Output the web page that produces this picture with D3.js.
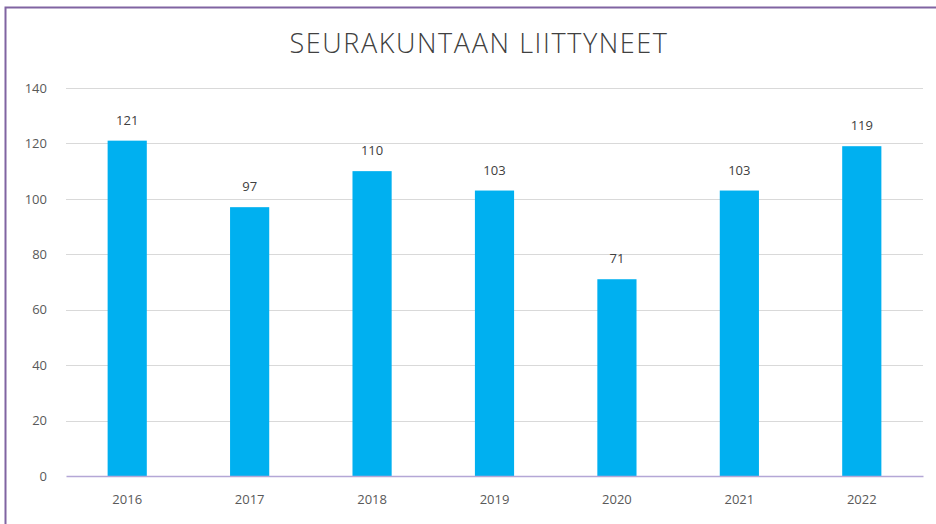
<!DOCTYPE html>
<html>
<head>
<meta charset="utf-8">
<script src="https://cdn.jsdelivr.net/npm/d3@7"></script>
<style>
  body { margin: 0; background: #fff; }
  svg { display: block; }
  .grid line { stroke: #d9d9d9; }
  .tick text { fill: #595959; font-family: "Open Sans", sans-serif; font-size: 13px; }
</style>
</head>
<body>
<script>
// データ
var years = ["2016", "2017", "2018", "2019", "2020", "2021", "2022"];
var joined = [121, 97, 110, 103, 71, 103, 119];
var yTicks = [0, 20, 40, 60, 80, 100, 120, 140];
var title = "SEURAKUNTAAN LIITTYNEET";

var W = 936, H = 524;
var margin = {top: 88, right: 13, bottom: 48, left: 66},
    width = W - margin.left - margin.right,
    height = H - margin.top - margin.bottom;

var svg = d3.select("body").append("svg")
    .attr("width", W)
    .attr("height", H);

// 枠線
svg.append("path")
    .attr("d", "M5.5," + H + " V7.5 H" + W)
    .attr("fill", "none")
    .attr("stroke", "#8064a2")
    .attr("stroke-width", 2);

// タイトル
svg.append("text")
    .attr("x", 479)
    .attr("y", 53)
    .attr("text-anchor", "middle")
    .style("font-family", "'Open Sans', sans-serif")
    .style("font-weight", 300)
    .style("font-size", "27px")
    .style("letter-spacing", "1.6px")
    .style("fill", "#404040")
    .text(title);

var g = svg.append("g")
    .attr("transform", "translate(" + margin.left + "," + margin.top + ")");

var x = d3.scaleBand().domain(years).range([0, width]).paddingInner(0.68).paddingOuter(0.34);
var y = d3.scaleLinear().domain([0, 140]).range([height, 0]);

// グリッド
g.append("g")
    .attr("class", "grid")
    .selectAll("line")
    .data(yTicks.slice(1))
    .enter().append("line")
    .attr("x1", 0).attr("x2", width)
    .attr("y1", function(d) { return Math.round(y(d)) + 0.5; })
    .attr("y2", function(d) { return Math.round(y(d)) + 0.5; });

// Y軸
var yAxis = g.append("g")
    .call(d3.axisLeft(y).tickValues(yTicks).tickSize(0).tickPadding(19));
yAxis.select(".domain").remove();

// 棒
g.selectAll(".bar")
    .data(joined)
    .enter().append("rect")
    .attr("class", "bar")
    .attr("x", function(d, i) { return x(years[i]); })
    .attr("width", x.bandwidth())
    .attr("y", function(d) { return y(d); })
    .attr("height", function(d) { return height - y(d); })
    .attr("fill", "#00b0f0");

// 値ラベル
g.selectAll(".val")
    .data(joined)
    .enter().append("text")
    .attr("class", "val")
    .attr("x", function(d, i) { return x(years[i]) + x.bandwidth() / 2; })
    .attr("y", function(d) { return y(d) - 16; })
    .attr("text-anchor", "middle")
    .style("font-family", "'Open Sans', sans-serif")
    .style("font-size", "13px")
    .style("fill", "#404040")
    .text(function(d) { return d; });

// X軸
var xAxis = g.append("g")
    .attr("transform", "translate(0," + height + ")")
    .call(d3.axisBottom(x).tickSize(0).tickPadding(19));
xAxis.select(".domain")
    .attr("stroke", "#b4a7d6")
    .attr("stroke-width", 1.5);
</script>
</body>
</html>
